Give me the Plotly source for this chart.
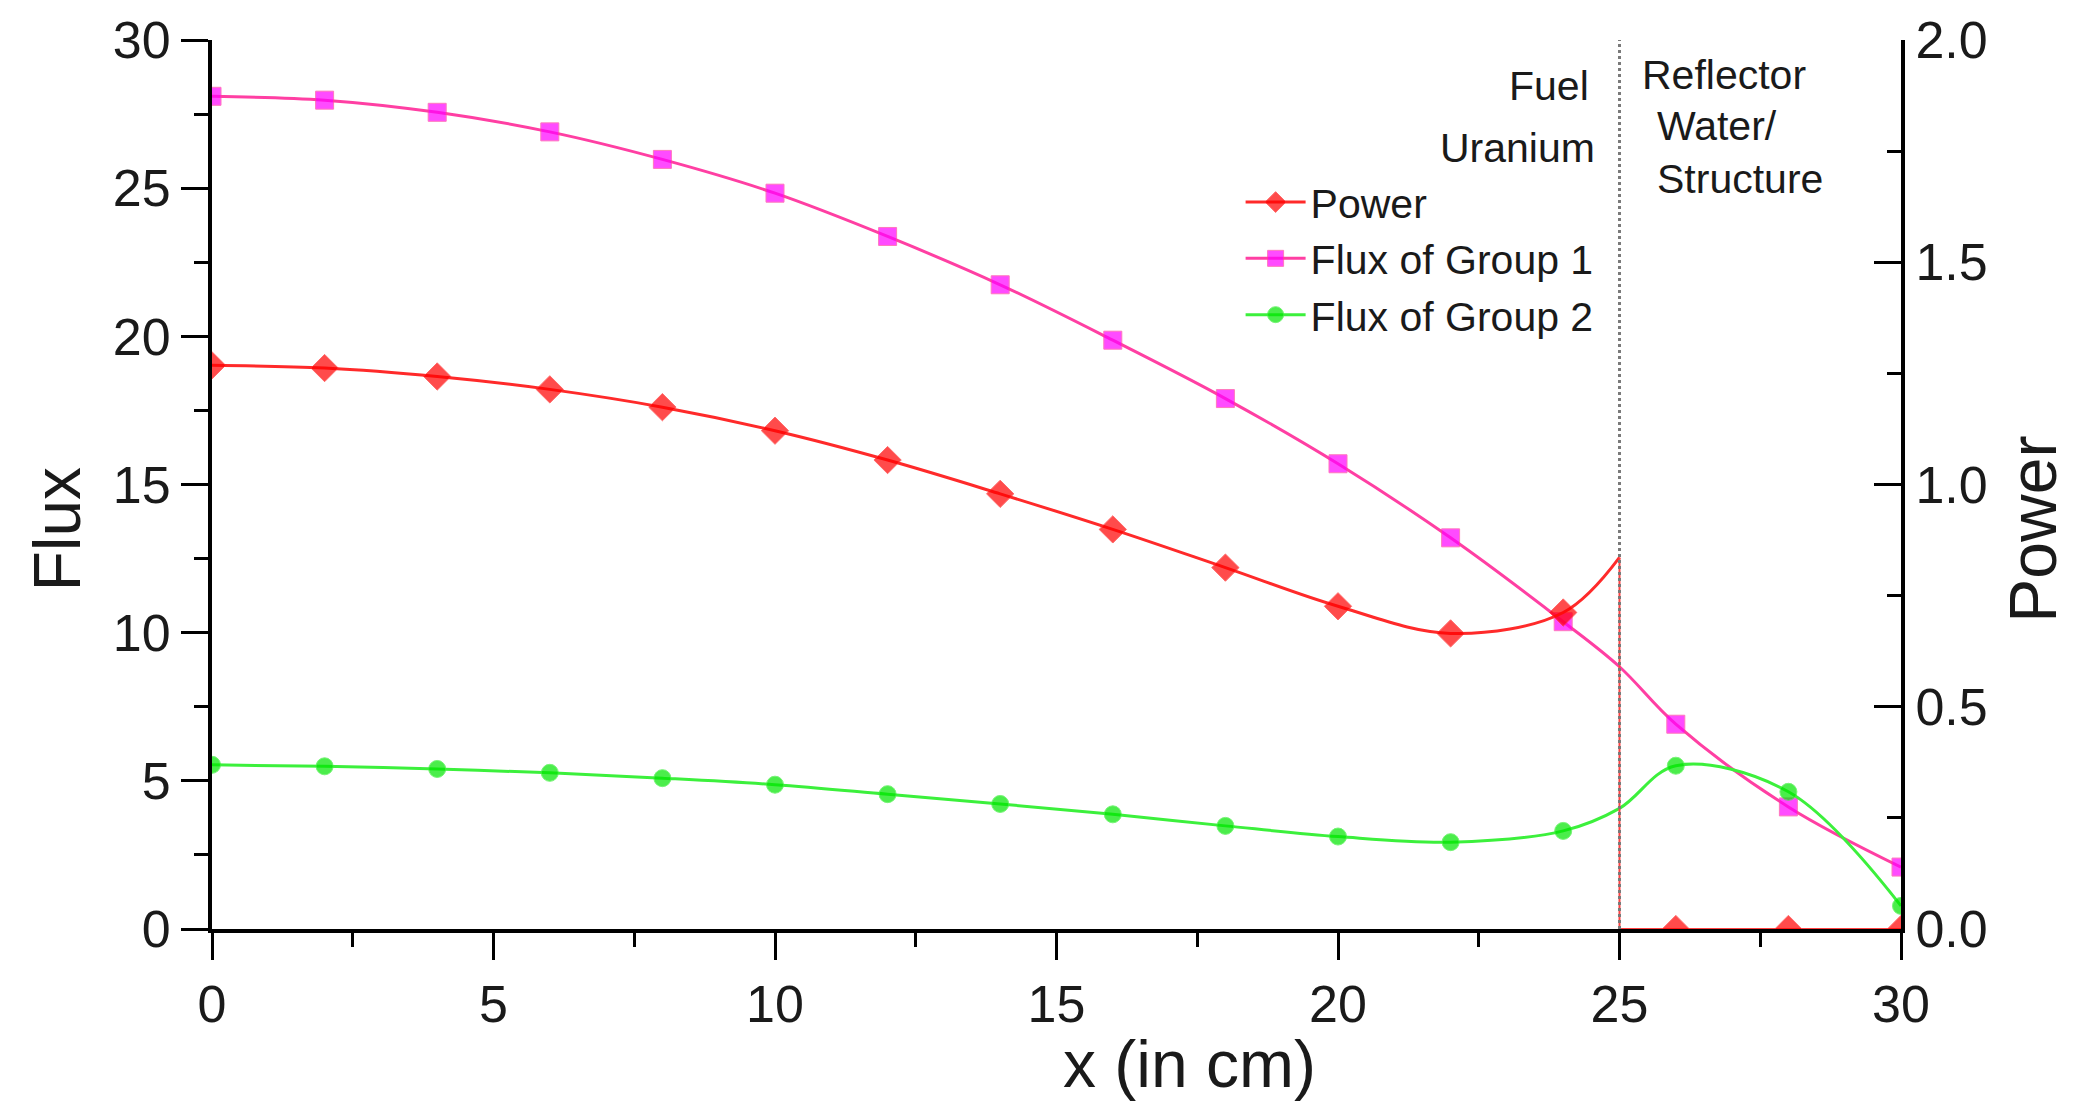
import plotly.graph_objects as go

# Sample positions across the slab (cm)
x_nodes = [0, 2, 4, 6, 8, 10, 12, 14, 16, 18, 20, 22, 24, 26, 28, 30]

# Relative power (right axis)
power = [1.268, 1.262, 1.243, 1.214, 1.174, 1.121, 1.055, 0.979, 0.899,
         0.813, 0.726, 0.665, 0.712, 0.0, 0.0, 0.0]
# Fast and thermal group fluxes (left axis)
flux_g1 = [28.10, 27.97, 27.56, 26.90, 25.97, 24.83, 23.37, 21.74, 19.87,
           17.90, 15.70, 13.20, 10.37, 6.91, 4.12, 2.09]
flux_g2 = [5.54, 5.49, 5.40, 5.27, 5.09, 4.87, 4.55, 4.22, 3.87,
           3.48, 3.12, 2.93, 3.31, 5.51, 4.63, 0.78]

# Values at the fuel / reflector interface
x_interface = 25
power_interface = 0.836
flux_g1_interface = 8.85
flux_g2_interface = 4.07

FONT = "Liberation Sans, Arial, sans-serif"
INK = "#1a1a1a"

SIZE_DIAMOND = 21
SIZE_SQUARE = 18
SIZE_CIRCLE = 17


def with_interface(xs, ys, y_int):
    """Insert the interface value into a node series (drawn without a marker)."""
    px, py, sizes = [], [], []
    for xv, yv in zip(xs, ys):
        if xv > x_interface and x_interface not in px:
            px.append(x_interface)
            py.append(y_int)
            sizes.append(0)
        px.append(xv)
        py.append(yv)
        sizes.append(1)
    return px, py, sizes


fuel_idx = [i for i, xv in enumerate(x_nodes) if xv < x_interface]
refl_idx = [i for i, xv in enumerate(x_nodes) if xv > x_interface]

fig = go.Figure()

# Power inside the fuel: smooth curve up to the interface
p_x = [x_nodes[i] for i in fuel_idx] + [x_interface]
p_y = [power[i] for i in fuel_idx] + [power_interface]
p_s = [SIZE_DIAMOND] * len(fuel_idx) + [0]
fig.add_trace(go.Scatter(
    x=p_x, y=p_y, yaxis="y2", name="Power", mode="lines+markers",
    line=dict(color="#ff2a2a", width=3, shape="spline", smoothing=1.0),
    marker=dict(symbol="diamond", color="#ff0000", size=p_s),
))
# Power drops to zero in the reflector
r_x = [x_interface, x_interface] + [x_nodes[i] for i in refl_idx]
r_y = [power_interface, 0.0] + [power[i] for i in refl_idx]
r_s = [0, 0] + [SIZE_DIAMOND] * len(refl_idx)
fig.add_trace(go.Scatter(
    x=r_x, y=r_y, yaxis="y2", name="Power", mode="lines+markers",
    showlegend=False,
    line=dict(color="#ff4040", width=2),
    marker=dict(symbol="diamond", color="#ff0000", size=r_s),
))

g1_x, g1_y, g1_s = with_interface(x_nodes, flux_g1, flux_g1_interface)
fig.add_trace(go.Scatter(
    x=g1_x, y=g1_y, name="Flux of Group 1", mode="lines+markers",
    line=dict(color="#ff3fa3", width=3, shape="spline", smoothing=1.0),
    marker=dict(symbol="square", color="#ff00ff",
                size=[SIZE_SQUARE * s for s in g1_s]),
))

g2_x, g2_y, g2_s = with_interface(x_nodes, flux_g2, flux_g2_interface)
fig.add_trace(go.Scatter(
    x=g2_x, y=g2_y, name="Flux of Group 2", mode="lines+markers",
    line=dict(color="#3cf03c", width=3, shape="spline", smoothing=1.0),
    marker=dict(symbol="circle", color="#00e600",
                size=[SIZE_CIRCLE * s for s in g2_s]),
))

# Interface marker
fig.add_shape(type="line", x0=x_interface, x1=x_interface, y0=0, y1=1,
              xref="x", yref="paper",
              line=dict(color="#7a7a7a", width=3, dash="dot"))

axis_common = dict(
    showgrid=False, zeroline=False, showline=True, linecolor="black",
    linewidth=4, tickwidth=3, tickcolor="black", layer="below traces",
    tickfont=dict(family=FONT, size=52, color=INK),
)

fig.update_layout(
    width=2074, height=1105,
    margin=dict(l=212, r=173, t=40, b=176),
    paper_bgcolor="white", plot_bgcolor="white",
    font=dict(family=FONT, color=INK),
    showlegend=True,
    legend=dict(
        x=0.609, y=0.855, xanchor="left", yanchor="top",
        bgcolor="rgba(0,0,0,0)", borderwidth=0,
        font=dict(family=FONT, size=41, color=INK),
        itemwidth=60, tracegroupgap=0,
    ),
    xaxis=dict(
        range=[0, 30], tickmode="linear", tick0=0, dtick=5,
        ticks="outside", ticklen=27,
        minor=dict(dtick=2.5, ticks="outside", ticklen=14, tickwidth=3,
                   tickcolor="black"),
        **axis_common,
    ),
    xaxis2=dict(
        range=[0, 30], overlaying="x", side="top", anchor="y",
        tickmode="linear", tick0=0, dtick=5,
        ticks="inside", ticklen=27, showticklabels=False,
        minor=dict(dtick=2.5, ticks="inside", ticklen=14, tickwidth=3,
                   tickcolor="black"),
        **axis_common,
    ),
    yaxis=dict(
        range=[0, 30], tickmode="linear", tick0=0, dtick=5,
        ticks="outside", ticklen=27,
        minor=dict(dtick=2.5, ticks="outside", ticklen=14, tickwidth=3,
                   tickcolor="black"),
        **axis_common,
    ),
    yaxis2=dict(
        range=[0, 2], overlaying="y", side="right", anchor="x",
        tickmode="linear", tick0=0, dtick=0.5, tickformat=".1f",
        ticks="inside", ticklen=27,
        minor=dict(dtick=0.25, ticks="inside", ticklen=14, tickwidth=3,
                   tickcolor="black"),
        **axis_common,
    ),
)

title_font = dict(family=FONT, size=66, color=INK)
label_font = dict(family=FONT, size=41, color=INK)
annotations = [
    dict(text="Flux", x=-0.092, y=0.45, xref="paper", yref="paper",
         xanchor="center", yanchor="middle",
         textangle=-90, showarrow=False, font=title_font),
    dict(text="Power", x=1.078, y=0.45, xref="paper", yref="paper",
         xanchor="center", yanchor="middle",
         textangle=-90, showarrow=False, font=title_font),
    dict(text="x (in cm)", x=0.579, y=-0.152, xref="paper", yref="paper",
         xanchor="center", yanchor="middle",
         showarrow=False, font=title_font),
    dict(text="Fuel", x=24.5, y=28.45, xref="x", yref="y",
         xanchor="right", yanchor="middle", showarrow=False, font=label_font),
    dict(text="Uranium", x=24.6, y=26.36, xref="x", yref="y",
         xanchor="right", yanchor="middle", showarrow=False, font=label_font),
    dict(text="Reflector", x=25.36, y=28.82, xref="x", yref="y",
         xanchor="left", yanchor="middle", showarrow=False, font=label_font),
    dict(text="Water/", x=25.63, y=27.1, xref="x", yref="y",
         xanchor="left", yanchor="middle", showarrow=False, font=label_font),
    dict(text="Structure", x=25.63, y=25.31, xref="x", yref="y",
         xanchor="left", yanchor="middle", showarrow=False, font=label_font),
]
fig.update_layout(annotations=annotations)

fig.write_html("out.html")
